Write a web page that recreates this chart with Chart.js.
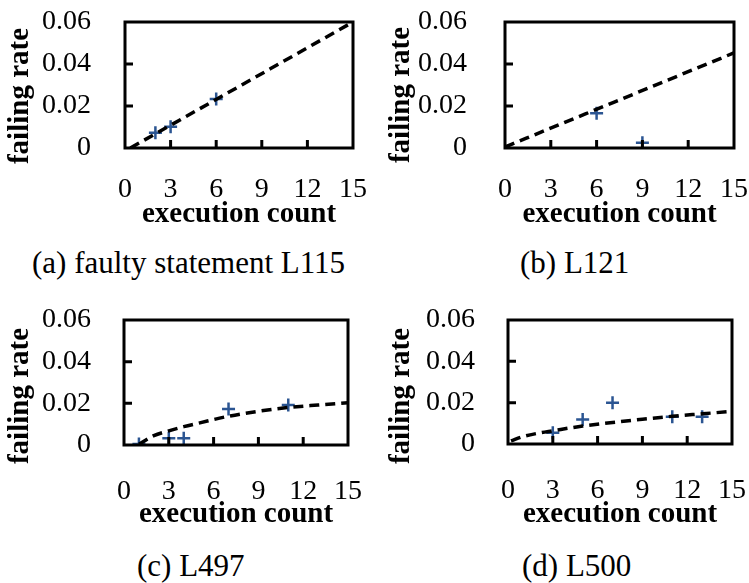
<!DOCTYPE html>
<html>
<head>
<meta charset="utf-8">
<script src="https://cdn.jsdelivr.net/npm/chart.js@4/dist/chart.umd.min.js"></script>
<style>
  html, body { margin: 0; padding: 0; background: #fff; overflow: hidden; }
  #wrap { position: relative; width: 749px; height: 583px; }
  canvas { position: absolute; }
  .caption {
    position: absolute;
    font: 31px/36px "Liberation Serif", "Times New Roman", serif;
    color: #000;
    white-space: nowrap;
  }
</style>
</head>
<body>
<div id="wrap">
  <canvas id="chartA" width="375" height="236" style="left:0px;top:0px;width:375px;height:236px"></canvas>
  <canvas id="chartB" width="374" height="236" style="left:375px;top:0px;width:374px;height:236px"></canvas>
  <canvas id="chartC" width="375" height="236" style="left:0px;top:298px;width:375px;height:236px"></canvas>
  <canvas id="chartD" width="374" height="236" style="left:375px;top:298px;width:374px;height:236px"></canvas>
  <div class="caption" style="left:32px;top:245px">(a) faulty statement L115</div>
  <div class="caption" style="left:520px;top:245px">(b) L121</div>
  <div class="caption" style="left:137px;top:548px">(c) L497</div>
  <div class="caption" style="left:522px;top:548px">(d) L500</div>
</div>
<script>
// observed (execution count, failing rate) pairs
const aObsX = [2, 3, 6];
const aObsY = [0.0073, 0.0101, 0.0233];
const bObsX = [6, 9];
const bObsY = [0.0165, 0.0025];
const cObsX = [1, 3, 4, 7, 11];
const cObsY = [0.0005, 0.0032, 0.0032, 0.0173, 0.0192];
const dObsX = [3, 5, 7, 11, 13];
const dObsY = [0.0055, 0.0119, 0.0200, 0.0132, 0.0132];

// dashed trend lines
const aTrendX = [0.35, 15];
const aTrendY = [0, 0.060];
const bTrendX = [0, 15];
const bTrendY = [0.0005, 0.0453];
const cTrendX = [1, 2, 3, 4, 5, 7, 9, 11, 13, 15];
const cTrendY = [0.0003, 0.0045, 0.0068, 0.0088, 0.0105, 0.0138, 0.0162, 0.0180, 0.0192, 0.0203];
const dTrendX = [0.2, 1, 2, 3, 5, 7, 9, 11, 13, 15];
const dTrendY = [0.0015, 0.0036, 0.0052, 0.0064, 0.0087, 0.0104, 0.0120, 0.0134, 0.0146, 0.0158];

const xTicks = [0, 3, 6, 9, 12, 15];
const yTicks = [0, 0.02, 0.04, 0.06];
const xTitle = 'execution count';
const yTitle = 'failing rate';

const MARK_COLOR = '#2B5592';
const SERIF = '"Liberation Serif", "Times New Roman", serif';

function pairs(xs, ys) {
    return xs.map((x, i) => ({x: x, y: ys[i]}));
}

// frame, inward tick marks and the rotated y title
const framePlugin = {
    id: 'frame',
    afterDraw(chart, args, opts) {
        const {ctx, chartArea: a, scales} = chart;
        ctx.save();
        ctx.strokeStyle = '#000';
        ctx.lineWidth = 3;
        ctx.strokeRect(a.left, a.top, a.right - a.left, a.bottom - a.top);
        ctx.beginPath();
        for (const v of xTicks.slice(1, -1)) {
            const px = scales.x.getPixelForValue(v);
            ctx.moveTo(px, a.bottom);
            ctx.lineTo(px, a.bottom - 8);
        }
        for (const v of yTicks.slice(1, -1)) {
            const py = scales.y.getPixelForValue(v);
            ctx.moveTo(a.left, py);
            ctx.lineTo(a.left + 8, py);
        }
        ctx.stroke();

        ctx.translate(opts.titleX, opts.titleY);
        ctx.rotate(-Math.PI / 2);
        ctx.fillStyle = '#000';
        ctx.font = 'bold 29px ' + SERIF;
        ctx.textAlign = 'center';
        ctx.textBaseline = 'middle';
        ctx.fillText(yTitle, 0, 0);
        ctx.restore();
    }
};

function makeChart(id, obsX, obsY, trendX, trendY, box) {
    const canvas = document.getElementById(id);
    const W = canvas.width, H = canvas.height;
    return new Chart(canvas, {
        type: 'scatter',
        data: {
            datasets: [
                {
                    data: pairs(trendX, trendY),
                    showLine: true,
                    borderColor: '#000',
                    borderWidth: 3.5,
                    borderDash: [10, 6],
                    pointRadius: 0,
                    cubicInterpolationMode: 'monotone'
                },
                {
                    data: pairs(obsX, obsY),
                    pointStyle: 'cross',
                    pointRadius: 6.5,
                    pointBorderWidth: 2.5,
                    borderColor: MARK_COLOR,
                    backgroundColor: MARK_COLOR
                }
            ]
        },
        options: {
            responsive: false,
            animation: false,
            devicePixelRatio: 1,
            layout: {
                padding: {left: 0, top: box.top, right: W - box.right, bottom: 0}
            },
            scales: {
                x: {
                    type: 'linear',
                    min: 0,
                    max: 15,
                    afterBuildTicks: s => { s.ticks = xTicks.map(v => ({value: v})); },
                    afterFit: s => {
                        s.height = H - box.bottom;
                        s.paddingLeft = 0;
                        s.paddingRight = 0;
                    },
                    grid: {display: false},
                    border: {display: false},
                    ticks: {
                        color: '#000',
                        padding: box.xPad,
                        autoSkip: false,
                        maxRotation: 0,
                        font: {family: SERIF, size: 28}
                    },
                    title: {
                        display: true,
                        text: xTitle,
                        color: '#000',
                        padding: {top: 0, bottom: box.titlePad},
                        font: {family: SERIF, size: 29, weight: 'bold'}
                    }
                },
                y: {
                    type: 'linear',
                    min: 0,
                    max: 0.06,
                    afterBuildTicks: s => { s.ticks = yTicks.map(v => ({value: v})); },
                    afterFit: s => {
                        s.width = box.left;
                        s.paddingTop = 0;
                        s.paddingBottom = 0;
                    },
                    grid: {display: false},
                    border: {display: false},
                    ticks: {
                        color: '#000',
                        padding: box.yPad,
                        autoSkip: false,
                        font: {family: SERIF, size: 28},
                        callback: v => v === 0 ? '0' : v.toFixed(2)
                    }
                }
            },
            plugins: {
                legend: {display: false},
                tooltip: {enabled: false},
                frame: {titleX: box.titleX, titleY: box.titleY}
            }
        },
        plugins: [framePlugin]
    });
}

makeChart('chartA', aObsX, aObsY, aTrendX, aTrendY,
    {left: 125, right: 353, top: 22, bottom: 148, xPad: 17, yPad: 26, titlePad: 4, titleX: 21, titleY: 96});
makeChart('chartB', bObsX, bObsY, bTrendX, bTrendY,
    {left: 130, right: 359, top: 22, bottom: 148, xPad: 17, yPad: 30, titlePad: 4, titleX: 27, titleY: 95});
makeChart('chartC', cObsX, cObsY, cTrendX, cTrendY,
    {left: 124, right: 348, top: 22, bottom: 147, xPad: 22, yPad: 25, titlePad: 2, titleX: 21, titleY: 98});
makeChart('chartD', dObsX, dObsY, dTrendX, dTrendY,
    {left: 133, right: 357, top: 22, bottom: 146, xPad: 22, yPad: 25, titlePad: 2, titleX: 27, titleY: 98});
</script>
</body>
</html>
